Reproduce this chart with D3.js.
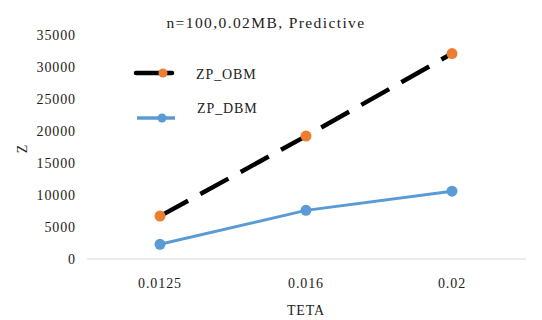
<!DOCTYPE html>
<html><head><meta charset="utf-8">
<script src="https://cdn.jsdelivr.net/npm/d3@7"></script>
<style>body{margin:0;background:#fff}svg{display:block}</style>
</head><body>
<svg id="c" width="542" height="320"></svg>
<script>
const categories = ["0.0125", "0.016", "0.02"];
const obmValues = [6700, 19200, 32100];
const dbmValues = [2300, 7600, 10600];
const yTicks = [0, 5000, 10000, 15000, 20000, 25000, 30000, 35000];
const seriesNames = ["ZP_OBM", "ZP_DBM"];
const titleText = "n=100,0.02MB, Predictive";

const svg = d3.select("#c");
const font = "'Liberation Serif', 'Times New Roman', serif";
const fs = 14;
const ls = 0.9;
const x = d3.scalePoint().domain(categories).range([160, 452]).padding(0);
const y = d3.scaleLinear().domain([0, 35000]).range([259, 35]);

// x axis line
svg.append("line").attr("x1", 87).attr("x2", 526).attr("y1", y(0)).attr("y2", y(0))
  .attr("stroke", "#d9d9d9").attr("stroke-width", 1);

// y tick labels
svg.append("g").selectAll("text").data(yTicks).join("text")
  .attr("x", 76).attr("y", d => y(d)).attr("dy", "0.35em").attr("text-anchor", "end")
  .attr("font-family", font).attr("font-size", fs).attr("letter-spacing", ls)
  .attr("fill", "#222").text(d => d);

// x tick labels
svg.append("g").selectAll("text").data(categories).join("text")
  .attr("x", d => x(d)).attr("y", 288).attr("text-anchor", "middle")
  .attr("font-family", font).attr("font-size", fs).attr("letter-spacing", ls)
  .attr("fill", "#222").text(d => d);

// axis titles
svg.append("text").attr("x", 306).attr("y", 315).attr("text-anchor", "middle")
  .attr("font-family", font).attr("font-size", fs).attr("letter-spacing", ls)
  .attr("fill", "#222").text("TETA");
svg.append("text").attr("transform", "translate(22,149) rotate(-90)").attr("text-anchor", "middle")
  .attr("dy", "0.35em").attr("font-family", font).attr("font-size", fs).attr("fill", "#222").text("Z");

// title
svg.append("text").attr("x", 266).attr("y", 28).attr("text-anchor", "middle")
  .attr("font-family", font).attr("font-size", 15.5).attr("letter-spacing", 1.4)
  .attr("fill", "#222").text(titleText);

const line = d3.line().x((d, i) => x(categories[i])).y(d => y(d));

// DBM
svg.append("path").attr("d", line(dbmValues)).attr("fill", "none")
  .attr("stroke", "#5B9BD5").attr("stroke-width", 3);
svg.append("g").selectAll("circle").data(dbmValues).join("circle")
  .attr("cx", (d, i) => x(categories[i])).attr("cy", d => y(d)).attr("r", 5.5).attr("fill", "#5B9BD5");

// OBM
svg.append("path").attr("d", line(obmValues)).attr("fill", "none")
  .attr("stroke", "#000").attr("stroke-width", 4.5).attr("stroke-dasharray", "32,14");
svg.append("g").selectAll("circle").data(obmValues).join("circle")
  .attr("cx", (d, i) => x(categories[i])).attr("cy", d => y(d)).attr("r", 5.5).attr("fill", "#ED7D31");

// legend
const lg = svg.append("g");
lg.append("line").attr("x1", 136).attr("x2", 172).attr("y1", 73).attr("y2", 73)
  .attr("stroke", "#000").attr("stroke-width", 4.5).attr("stroke-linecap", "round");
lg.append("circle").attr("cx", 163).attr("cy", 73).attr("r", 4.5).attr("fill", "#ED7D31");
lg.append("text").attr("x", 196).attr("y", 74).attr("dy", "0.35em")
  .attr("font-family", font).attr("font-size", fs).attr("letter-spacing", ls)
  .attr("fill", "#222").text(seriesNames[0]);
lg.append("line").attr("x1", 137).attr("x2", 175).attr("y1", 118).attr("y2", 118)
  .attr("stroke", "#5B9BD5").attr("stroke-width", 3.5);
lg.append("circle").attr("cx", 162).attr("cy", 118).attr("r", 4.5).attr("fill", "#5B9BD5");
lg.append("text").attr("x", 197).attr("y", 108).attr("dy", "0.35em")
  .attr("font-family", font).attr("font-size", fs).attr("letter-spacing", ls)
  .attr("fill", "#222").text(seriesNames[1]);
</script>
</body></html>
